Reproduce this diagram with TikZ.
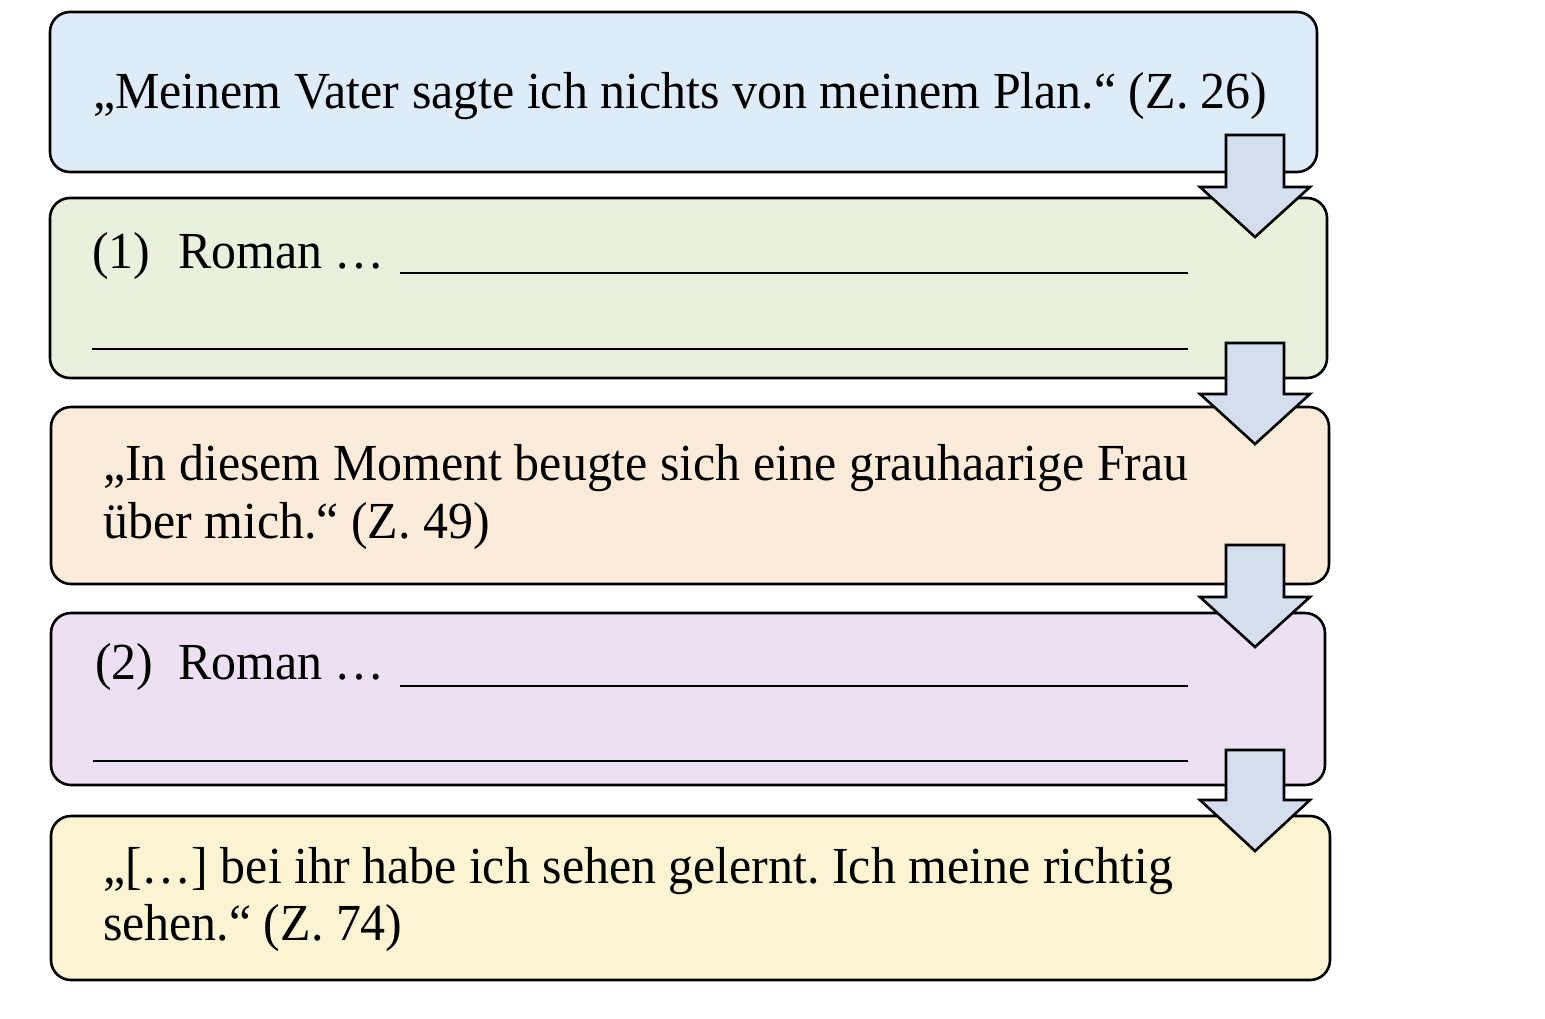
\documentclass[tikz,border=0pt]{standalone}
\usepackage{fontspec}
\setmainfont[FakeStretch=0.96]{Liberation Serif}
\definecolor{cblue}{HTML}{DEEBF8}
\definecolor{cgreen}{HTML}{E9F1DD}
\definecolor{cpeach}{HTML}{FDEBD9}
\definecolor{clav}{HTML}{EBE1F2}
\definecolor{cyellow}{HTML}{FBF4D3}
\definecolor{carrow}{HTML}{D5DEEE}
\tikzset{
  box/.style={draw=black, line width=2.6pt, rounded corners=20pt, anchor=north west, inner sep=0pt, outer sep=0pt},
  txt/.style={anchor=base west, inner sep=0pt, font=\fontsize{52}{57}\selectfont},
  blank/.style={line width=2.4pt},
  barrow/.style={draw=black, line width=2.6pt, fill=carrow, line join=miter}
}
\newcommand{\downblock}[4]{% name, top y, base y, tip y
  \coordinate (#1) at (1255,-#4);
  \draw[barrow] (1226,-#2) -- (1284,-#2) -- (1284,-#3) -- (1310,-#3) -- (#1) -- (1200,-#3) -- (1226,-#3) -- cycle;
}
\begin{document}
\frenchspacing
\begin{tikzpicture}[x=1pt,y=1pt]
\useasboundingbox (0,0) rectangle (1545,-1018);
\fill[white] (0,0) rectangle (1545,-1018);
% boxes
\node[box, fill=cblue,   minimum width=1267pt, minimum height=160pt] (b1) at (50,-12) {};
\node[box, fill=cgreen,  minimum width=1277pt, minimum height=180pt] (b2) at (50,-198) {};
\node[box, fill=cpeach,  minimum width=1278pt, minimum height=177pt] (b3) at (51,-407) {};
\node[box, fill=clav,    minimum width=1274pt, minimum height=172pt] (b4) at (51,-613) {};
\node[box, fill=cyellow, minimum width=1279pt, minimum height=164pt] (b5) at (51,-816) {};
% texts
\node[txt] (t1) at (93,-108) {„Meinem Vater sagte ich nichts von meinem Plan.“ (Z.~26)};
\node[txt] (t2a) at (92,-268) {(1)};
\node[txt] (t2b) at (178,-268) {Roman …};
\draw[blank] (400,-273) -- (1188,-273);
\draw[blank] (92,-349) -- (1188,-349);
\node[txt] (t3a) at (103,-480) {„In diesem Moment beugte sich eine grauhaarige Frau};
\node[txt] (t3b) at (103,-538) {über mich.“ (Z.~49)};
\node[txt] (t4a) at (95,-679) {(2)};
\node[txt] (t4b) at (178,-679) {Roman …};
\draw[blank] (400,-686) -- (1188,-686);
\draw[blank] (93,-761) -- (1188,-761);
\node[txt] (t5a) at (103,-883) {„[…] bei ihr habe ich sehen gelernt. Ich meine richtig};
\node[txt] (t5b) at (103,-940) {sehen.“ (Z.~74)};
% block arrows
\downblock{a1}{135}{187}{237}
\downblock{a2}{343}{394}{444}
\downblock{a3}{545}{597}{647}
\downblock{a4}{750}{800}{851}
\end{tikzpicture}
\end{document}
